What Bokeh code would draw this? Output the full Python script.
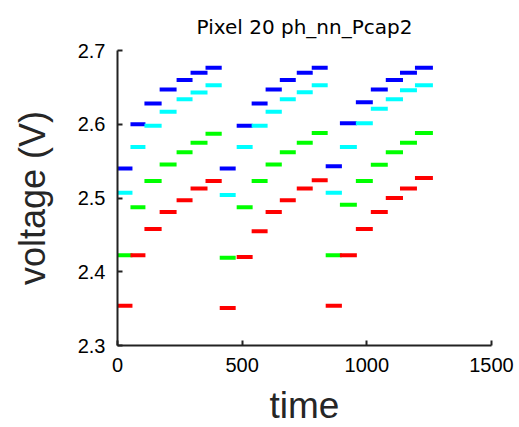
from bokeh.plotting import figure
from bokeh.models import Range1d, FixedTicker, ColumnDataSource
from bokeh.embed import file_html
from bokeh.resources import INLINE

# step start / end times (three charging cycles, seven steps each)
t_start = [0, 52, 108, 169, 237, 293, 353,
           410, 478, 538, 594, 651, 719, 779,
           835, 892, 956, 1016, 1076, 1133, 1193]
t_end = [60, 112, 177, 237, 301, 361, 418,
         474, 542, 602, 659, 715, 783, 843,
         900, 960, 1024, 1084, 1145, 1201, 1265]

blue_v = [2.540, 2.600, 2.628, 2.647, 2.660, 2.670, 2.6765,
          2.540, 2.598, 2.628, 2.647, 2.660, 2.670, 2.6765,
          2.543, 2.6015, 2.630, 2.647, 2.660, 2.670, 2.6765]
cyan_v = [2.507, 2.569, 2.598, 2.617, 2.634, 2.643, 2.653,
          2.504, 2.569, 2.598, 2.617, 2.634, 2.6435, 2.653,
          2.507, 2.569, 2.6015, 2.621, 2.634, 2.646, 2.653]
green_v = [2.4225, 2.4875, 2.523, 2.5454, 2.562, 2.575, 2.587,
           2.419, 2.4875, 2.523, 2.5454, 2.562, 2.575, 2.588,
           2.4225, 2.4907, 2.523, 2.545, 2.562, 2.575, 2.588]
red_v = [2.3538, 2.4225, 2.458, 2.481, 2.497, 2.513, 2.523,
         2.351, 2.420, 2.455, 2.481, 2.497, 2.513, 2.524,
         2.354, 2.4225, 2.458, 2.481, 2.500, 2.513, 2.527]

x_ticks = [0, 500, 1000, 1500]
y_ticks = [2.3, 2.4, 2.5, 2.6, 2.7]

p = figure(
    output_backend="svg", toolbar_location=None,
    frame_width=374, frame_height=295,
    min_border_left=117, min_border_right=28,
    min_border_top=50, min_border_bottom=82,
    x_range=Range1d(0, 1500), y_range=Range1d(2.3, 2.7),
    title="Pixel 20 ph_nn_Pcap2",
)
p.outline_line_color = None
p.grid.visible = False
p.background_fill_color = "white"
p.border_fill_color = "white"

series = [(blue_v, "#0000FF"), (cyan_v, "#00FFFF"), (green_v, "#00FF00"), (red_v, "#FF0000")]
for vals, col in series:
    src = ColumnDataSource(dict(x0=t_start, x1=t_end, y=vals))
    p.segment(x0="x0", y0="y", x1="x1", y1="y", source=src,
              line_color=col, line_width=4, line_cap="butt")

p.title.text_font = "DejaVu Sans"
p.title.text_font_size = "20px"
p.title.text_font_style = "normal"
p.title.align = "center"
p.title.text_color = "black"
p.title.standoff = 24

p.xaxis.ticker = FixedTicker(ticks=x_ticks)
p.yaxis.ticker = FixedTicker(ticks=y_ticks)
p.yaxis.formatter.use_scientific = False
for ax in (p.xaxis, p.yaxis):
    ax.axis_line_width = 2
    ax.axis_line_color = "#222222"
    ax.major_tick_in = 5
    ax.major_tick_out = 0
    ax.major_tick_line_width = 2
    ax.major_tick_line_color = "#222222"
    ax.minor_tick_line_color = None
    ax.major_label_text_font = "Liberation Sans"
    ax.major_label_text_font_size = "20px"
    ax.major_label_text_color = "black"
    ax.axis_label_text_font = "Liberation Sans"
    ax.axis_label_text_font_style = "normal"
    ax.axis_label_text_color = "#262626"

p.xaxis.major_label_standoff = 12
p.yaxis.major_label_standoff = 12

p.yaxis.axis_label = "voltage (V)"
p.yaxis.axis_label_text_font_size = "36px"
p.yaxis.axis_label_standoff = 22

p.xaxis.axis_label = "time"
p.xaxis.axis_label_text_font_size = "37px"
p.xaxis.axis_label_standoff = 10

open("out.html", "w").write(file_html(p, INLINE))
